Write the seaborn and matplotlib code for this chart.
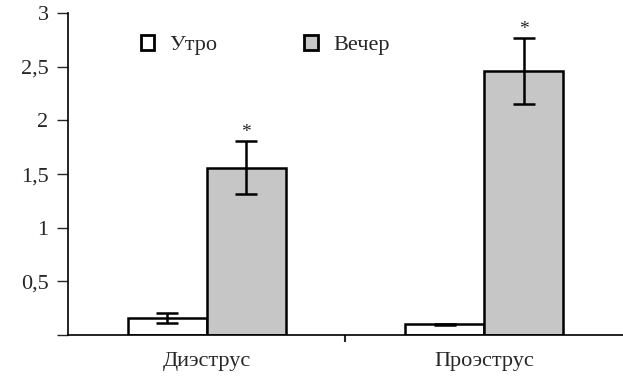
import pandas as pd
import numpy as np
import matplotlib.pyplot as plt
import seaborn as sns
from matplotlib.patches import Patch

phases = ["Диэструс", "Проэструс"]
times = ["Утро", "Вечер"]
morning = [0.16, 0.10]
evening = [1.56, 2.46]
morning_err = [0.045, 0.005]
evening_err = [0.25, 0.31]
yticks = [0, 0.5, 1, 1.5, 2, 2.5, 3]
ytick_labels = ["", "0,5", "1", "1,5", "2", "2,5", "3"]

df = pd.DataFrame({
    "phase": phases * 2,
    "time": [times[0]] * 2 + [times[1]] * 2,
    "value": morning + evening,
})
errs = {times[0]: morning_err, times[1]: evening_err}

sns.set_style("white")
plt.rcParams['font.family'] = ['Liberation Serif', 'DejaVu Serif']

fig = plt.figure(figsize=(6.23, 3.76), dpi=100)
ax = fig.add_axes([0.109, 0.109, 0.891, 0.856])
palette = {times[0]: "white", times[1]: "#c6c6c6"}
sns.barplot(data=df, x="phase", y="value", hue="time", order=phases, hue_order=times,
            palette=palette, width=0.57, edgecolor="black", linewidth=1.8,
            errorbar=None, legend=False, ax=ax)

for cont, t in zip(ax.containers, times):
    xs = [b.get_x() + b.get_width() / 2 for b in cont]
    hs = [b.get_height() for b in cont]
    ax.errorbar(xs, hs, yerr=errs[t], fmt="none", ecolor="black",
                elinewidth=1.8, capsize=8, capthick=1.8)
    if t == times[1]:
        for x, h, e in zip(xs, hs, errs[t]):
            ax.annotate("*", (x, h + e), xytext=(0, 0), textcoords="offset points",
                        ha="center", va="bottom", fontsize=14)

ax.set_xlim(-0.5, 1.5)
ax.set_ylim(0, 3)
ax.set_yticks(yticks)
ax.set_yticklabels(ytick_labels, fontsize=16)
ax.tick_params(axis="y", direction="out", length=8, width=1, left=True, pad=6)
ax.set_xticks([0, 1])
ax.set_xticklabels(phases, fontsize=16)
ax.set_xticks([0.5], minor=True)
ax.tick_params(axis="x", which="major", length=0, pad=12)
ax.tick_params(axis="x", which="minor", direction="out", length=5, width=1.5, bottom=True)
ax.set_xlabel("")
ax.set_ylabel("")
for s in ["top", "right"]:
    ax.spines[s].set_visible(False)
for s in ["left", "bottom"]:
    ax.spines[s].set_color("black")
    ax.spines[s].set_linewidth(1.2)

handles = [Patch(facecolor=palette[t], edgecolor="black", linewidth=2, label=t) for t in times]
ax.legend(handles=handles, loc="center left", bbox_to_anchor=(0.095, 0.90), ncol=2,
          frameon=False, fontsize=16, handlelength=0.6, handleheight=0.6,
          handletextpad=0.7, columnspacing=3.9)

fig.savefig("out.png", dpi=100)
plt.close(fig)
